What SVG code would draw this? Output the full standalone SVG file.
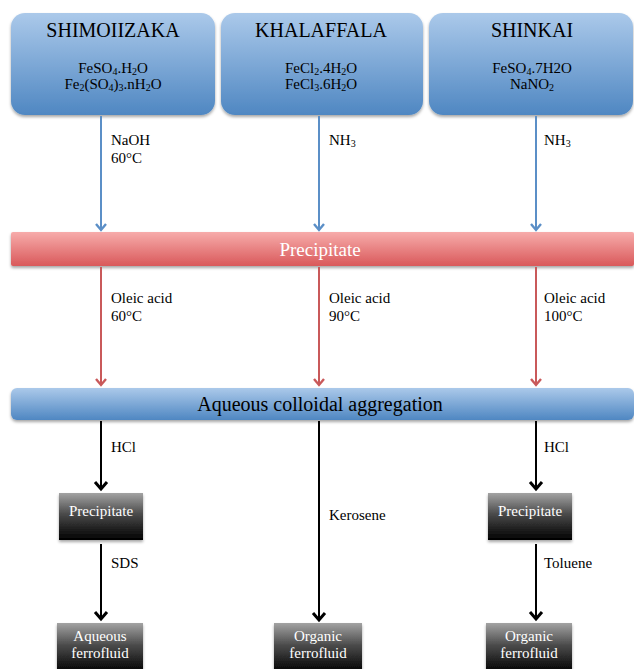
<svg xmlns="http://www.w3.org/2000/svg" width="634" height="669" viewBox="0 0 634 669">
<defs>
<linearGradient id="gBlue" x1="0" y1="0" x2="0" y2="1">
<stop offset="0" stop-color="#abc9ea"/>
<stop offset="1" stop-color="#4f87c2"/>
</linearGradient>
<linearGradient id="gRed" x1="0" y1="0" x2="0" y2="1">
<stop offset="0" stop-color="#f7acab"/>
<stop offset="1" stop-color="#d9595a"/>
</linearGradient>
<linearGradient id="gBlack" x1="0" y1="0" x2="0" y2="1">
<stop offset="0" stop-color="#a3a3a3"/>
<stop offset="0.45" stop-color="#4a4a4a"/>
<stop offset="1" stop-color="#000000"/>
</linearGradient>
<filter id="sh" x="-5%" y="-10%" width="110%" height="130%">
<feDropShadow dx="0" dy="2" stdDeviation="1.5" flood-color="#000" flood-opacity="0.35"/>
</filter>
<marker id="aBlue" markerWidth="14" markerHeight="14" refX="10" refY="7" orient="auto" markerUnits="userSpaceOnUse" viewBox="0 0 14 14">
<polyline points="4,2 10,7 4,12" fill="none" stroke="#5b8fc7" stroke-width="2.4"/>
</marker>
<marker id="aRed" markerWidth="14" markerHeight="14" refX="10" refY="7" orient="auto" markerUnits="userSpaceOnUse" viewBox="0 0 14 14">
<polyline points="4,2 10,7 4,12" fill="none" stroke="#c9595a" stroke-width="2.4"/>
</marker>
<marker id="aBlack" markerWidth="16" markerHeight="16" refX="12" refY="8" orient="auto" markerUnits="userSpaceOnUse" viewBox="0 0 16 16">
<polyline points="5,2 12,8 5,14" fill="none" stroke="#000" stroke-width="3"/>
</marker>
</defs>
<style>
text{font-family:"Liberation Serif","Times New Roman",serif;}
.title{font-size:20px;fill:#000;text-anchor:middle;}
.form{font-size:15px;fill:#000;text-anchor:middle;}
.sub{font-size:10px;}
.lbl{font-size:15px;fill:#000;}
.wt{font-size:15px;fill:#fff;text-anchor:middle;}
.blue{stroke:#5b8fc7;stroke-width:2;fill:none;}
.red{stroke:#c9595a;stroke-width:2;fill:none;}
.blk{stroke:#000;stroke-width:2;fill:none;}
</style>
<g id="shimoiizaka">
<rect x="11" y="13" width="204" height="102" rx="14" fill="url(#gBlue)" filter="url(#sh)"/>
<text class="title" x="113" y="37">SHIMOIIZAKA</text>
<text class="form" x="113" y="73">FeSO<tspan class="sub" dy="2">4</tspan><tspan dy="-2">.H</tspan><tspan class="sub" dy="2">2</tspan><tspan dy="-2">O</tspan></text>
<text class="form" x="113" y="89">Fe<tspan class="sub" dy="2">2</tspan><tspan dy="-2">(SO</tspan><tspan class="sub" dy="2">4</tspan><tspan dy="-2">)</tspan><tspan class="sub" dy="2">3</tspan><tspan dy="-2">.nH</tspan><tspan class="sub" dy="2">2</tspan><tspan dy="-2">O</tspan></text>
</g>

<g id="khalaffala">
<rect x="221" y="13" width="202" height="102" rx="14" fill="url(#gBlue)" filter="url(#sh)"/>
<text class="title" x="321" y="37">KHALAFFALA</text>
<text class="form" x="321" y="73">FeCl<tspan class="sub" dy="2">2</tspan><tspan dy="-2">.4H</tspan><tspan class="sub" dy="2">2</tspan><tspan dy="-2">O</tspan></text>
<text class="form" x="321" y="89">FeCl<tspan class="sub" dy="2">3</tspan><tspan dy="-2">.6H</tspan><tspan class="sub" dy="2">2</tspan><tspan dy="-2">O</tspan></text>
</g>

<g id="shinkai">
<rect x="429" y="13" width="204" height="102" rx="14" fill="url(#gBlue)" filter="url(#sh)"/>
<text class="title" x="532" y="37">SHINKAI</text>
<text class="form" x="532" y="73">FeSO<tspan class="sub" dy="2">4</tspan><tspan dy="-2">.7H2O</tspan></text>
<text class="form" x="532" y="89">NaNO<tspan class="sub" dy="2">2</tspan></text>
</g>

<g id="precipitate-bar">
<rect x="11" y="232" width="623" height="34" rx="2" fill="url(#gRed)" filter="url(#sh)"/>
<text x="320" y="256" font-size="19" fill="#fff" text-anchor="middle">Precipitate</text>
</g>

<g id="aggregation-bar">
<rect x="11" y="388" width="623" height="32" rx="6" fill="url(#gBlue)" filter="url(#sh)"/>
<text x="320" y="411" font-size="20" fill="#000" text-anchor="middle">Aqueous colloidal aggregation</text>
</g>

<g id="precipitate-left">
<rect x="59" y="493" width="84" height="47" fill="url(#gBlack)" filter="url(#sh)"/>
<text class="wt" x="101" y="516">Precipitate</text>
</g>

<g id="precipitate-right">
<rect x="488" y="493" width="84" height="47" fill="url(#gBlack)" filter="url(#sh)"/>
<text class="wt" x="530" y="516">Precipitate</text>
</g>

<g id="aqueous-ferrofluid">
<rect x="57" y="623" width="86" height="50" fill="url(#gBlack)" filter="url(#sh)"/>
<text class="wt" x="100" y="641">Aqueous</text>
<text class="wt" x="100" y="658">ferrofluid</text>
</g>

<g id="organic-ferrofluid-mid">
<rect x="274" y="623" width="88" height="50" fill="url(#gBlack)" filter="url(#sh)"/>
<text class="wt" x="318" y="641">Organic</text>
<text class="wt" x="318" y="658">ferrofluid</text>
</g>

<g id="organic-ferrofluid-right">
<rect x="486" y="623" width="86" height="50" fill="url(#gBlack)" filter="url(#sh)"/>
<text class="wt" x="529" y="641">Organic</text>
<text class="wt" x="529" y="658">ferrofluid</text>
</g>

<g id="connectors">
<line class="blue" x1="101" y1="116" x2="101" y2="230" marker-end="url(#aBlue)"/>
<line class="blue" x1="319" y1="116" x2="319" y2="230" marker-end="url(#aBlue)"/>
<line class="blue" x1="536" y1="116" x2="536" y2="230" marker-end="url(#aBlue)"/>
<line class="red" x1="101" y1="267" x2="101" y2="385" marker-end="url(#aRed)"/>
<line class="red" x1="319" y1="267" x2="319" y2="385" marker-end="url(#aRed)"/>
<line class="red" x1="536" y1="267" x2="536" y2="385" marker-end="url(#aRed)"/>
<line class="blk" x1="101" y1="421" x2="101" y2="489" marker-end="url(#aBlack)"/>
<line class="blk" x1="319" y1="421" x2="319" y2="620" marker-end="url(#aBlack)"/>
<line class="blk" x1="536" y1="421" x2="536" y2="489" marker-end="url(#aBlack)"/>
<line class="blk" x1="101" y1="544" x2="101" y2="619" marker-end="url(#aBlack)"/>
<line class="blk" x1="536" y1="544" x2="536" y2="619" marker-end="url(#aBlack)"/>
<text class="lbl" x="111" y="145">NaOH</text>
<text class="lbl" x="111" y="163">60°C</text>
<text class="lbl" x="329" y="145">NH<tspan class="sub" dy="2">3</tspan></text>
<text class="lbl" x="544" y="145">NH<tspan class="sub" dy="2">3</tspan></text>
<text class="lbl" x="111" y="303">Oleic acid</text>
<text class="lbl" x="111" y="321">60°C</text>
<text class="lbl" x="329" y="303">Oleic acid</text>
<text class="lbl" x="329" y="321">90°C</text>
<text class="lbl" x="544" y="303">Oleic acid</text>
<text class="lbl" x="544" y="321">100°C</text>
<text class="lbl" x="111" y="452">HCl</text>
<text class="lbl" x="544" y="452">HCl</text>
<text class="lbl" x="329" y="520">Kerosene</text>
<text class="lbl" x="111" y="568">SDS</text>
<text class="lbl" x="544" y="568">Toluene</text>
</g>
</svg>
